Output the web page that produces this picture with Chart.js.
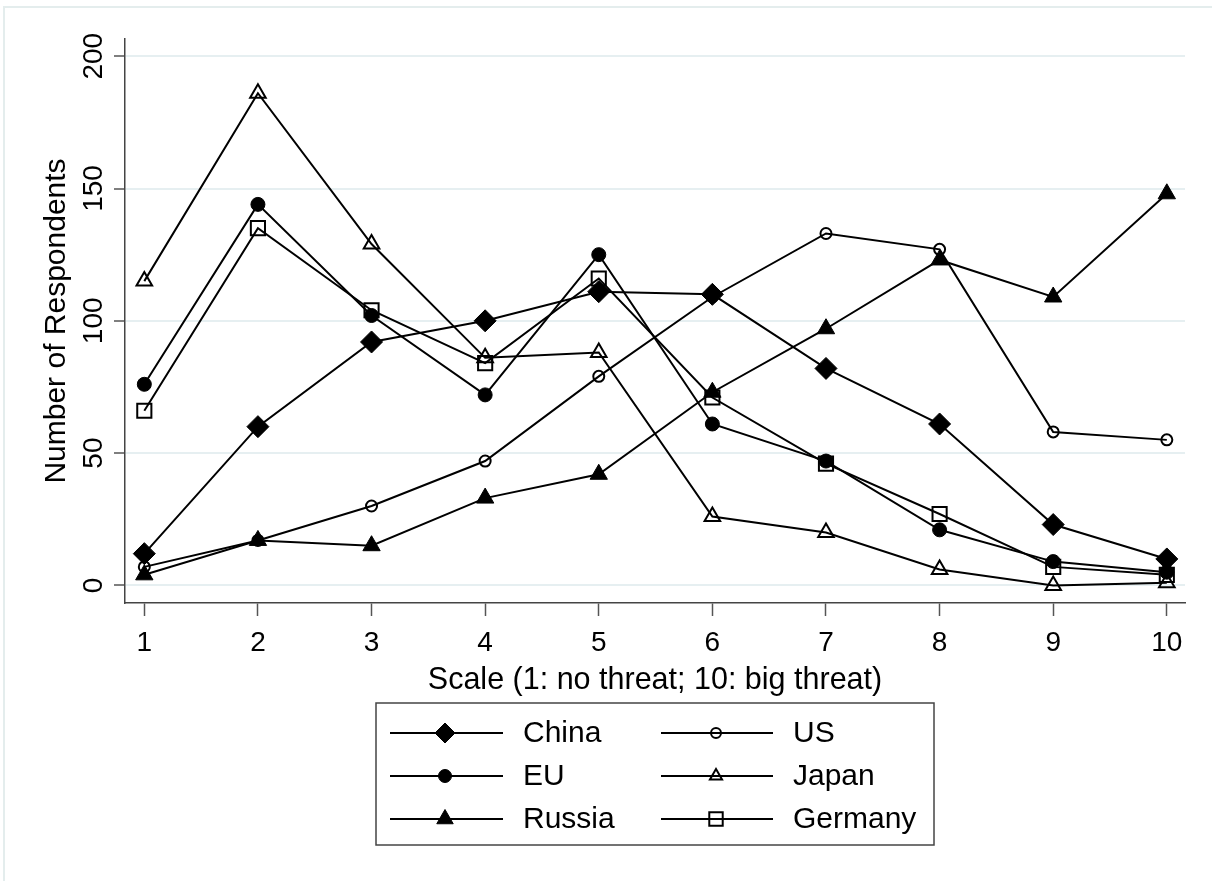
<!DOCTYPE html>
<html>
<head>
<meta charset="utf-8">
<script src="https://cdn.jsdelivr.net/npm/chart.js@4.4.1/dist/chart.umd.min.js"></script>
<style>
  html, body { margin: 0; padding: 0; background: #fff; }
  #wrap { position: relative; width: 1212px; height: 881px; }
  canvas { display: block; }
</style>
</head>
<body>
<div id="wrap"><canvas id="c" width="1212" height="881"></canvas></div>
<script>
// Threat scale levels and respondent counts per country
const scaleLevels = [1, 2, 3, 4, 5, 6, 7, 8, 9, 10];
const yTickValues = [0, 50, 100, 150, 200];
const china   = [12, 60, 92, 100, 111, 110, 82, 61, 23, 10];
const us      = [7, 17, 30, 47, 79, 109, 133, 127, 58, 55];
const eu      = [76, 144, 102, 72, 125, 61, 47, 21, 9, 5];
const japan   = [115, 186, 129, 86, 88, 26, 20, 6, 0, 1];
const russia  = [4, 17, 15, 33, 42, 73, 97, 123, 109, 148];
const germany = [66, 135, 104, 84, 116, 71, 46, 27, 7, 4];
const seriesNames = ['China', 'US', 'EU', 'Japan', 'Russia', 'Germany'];
const xTitle = 'Scale (1: no threat; 10: big threat)';
const yTitle = 'Number of Respondents';

const FONT = '"Liberation Sans", Arial, sans-serif';
const INK = '#000';
const CLEAR = 'rgba(0,0,0,0)';

// marker look per country: chart radius r, legend radius lr
const markerStyles = {
  China:   { style: 'rectRot',  r: 11,  filled: true,  lr: 10 },
  US:      { style: 'circle',   r: 5.5, filled: false, lr: 5 },
  EU:      { style: 'circle',   r: 7,   filled: true,  lr: 6.5 },
  Japan:   { style: 'triangle', r: 9,   filled: false, lr: 7 },
  Russia:  { style: 'triangle', r: 10,  filled: true,  lr: 9.5 },
  Germany: { style: 'rect',     r: 10,  filled: false, lr: 9.5 }
};

const seriesValues = { China: china, US: us, EU: eu, Japan: japan, Russia: russia, Germany: germany };

function toPoints(vals) {
  return scaleLevels.map((x, i) => ({ x: x, y: vals[i] }));
}

const datasets = seriesNames.map(name => {
  const m = markerStyles[name];
  return {
    label: name,
    data: toPoints(seriesValues[name]),
    borderColor: INK,
    borderWidth: 2,
    tension: 0,
    fill: false,
    pointStyle: m.style,
    pointRadius: m.r,
    pointBackgroundColor: m.filled ? INK : CLEAR,
    pointBorderColor: INK,
    pointBorderWidth: m.filled ? 1 : 2
  };
});

// marker path for the legend keys
function markerPath(ctx, style, x, y, r) {
  ctx.beginPath();
  if (style === 'circle') {
    ctx.arc(x, y, r, 0, Math.PI * 2);
  } else if (style === 'rectRot') {
    ctx.moveTo(x - r, y); ctx.lineTo(x, y - r); ctx.lineTo(x + r, y); ctx.lineTo(x, y + r);
    ctx.closePath();
  } else if (style === 'rect') {
    const s = Math.SQRT1_2 * r;
    ctx.rect(x - s, y - s, 2 * s, 2 * s);
  } else if (style === 'triangle') {
    for (let k = 0; k < 3; k++) {
      const a = k * 2 * Math.PI / 3;
      const px = x + Math.sin(a) * r, py = y - Math.cos(a) * r;
      if (k === 0) ctx.moveTo(px, py); else ctx.lineTo(px, py);
    }
    ctx.closePath();
  }
}

const framePlugin = {
  id: 'frame',
  beforeDraw(chart) {
    const ctx = chart.ctx;
    ctx.save();
    ctx.fillStyle = '#fff';
    ctx.fillRect(0, 0, chart.width, chart.height);
    ctx.strokeStyle = '#e4eded';
    ctx.lineWidth = 2;
    ctx.strokeRect(4, 7, chart.width + 20, chart.height + 20);
    ctx.restore();
  }
};

const labelsPlugin = {
  id: 'axisText',
  afterDraw(chart) {
    const ctx = chart.ctx;
    const xs = chart.scales.x, ys = chart.scales.y, area = chart.chartArea;
    ctx.save();
    ctx.fillStyle = INK;

    // x tick labels
    ctx.font = '28px ' + FONT;
    ctx.textAlign = 'center';
    ctx.textBaseline = 'alphabetic';
    scaleLevels.forEach(v => ctx.fillText(String(v), xs.getPixelForValue(v), 651));

    // x title
    ctx.font = '30.5px ' + FONT;
    ctx.fillText(xTitle, (area.left + area.right) / 2, 689);

    // y tick labels, rotated
    ctx.font = '28px ' + FONT;
    yTickValues.forEach(v => {
      ctx.save();
      ctx.translate(102, ys.getPixelForValue(v));
      ctx.rotate(-Math.PI / 2);
      ctx.fillText(String(v), 0, 0);
      ctx.restore();
    });

    // y title
    ctx.font = '30px ' + FONT;
    ctx.save();
    ctx.translate(65, (area.top + area.bottom) / 2);
    ctx.rotate(-Math.PI / 2);
    ctx.fillText(yTitle, 0, 0);
    ctx.restore();

    // legend box
    const box = { x: 376, y: 703, w: 558, h: 142 };
    ctx.strokeStyle = '#444';
    ctx.lineWidth = 1.5;
    ctx.strokeRect(box.x, box.y, box.w, box.h);

    const cols = [
      { x0: 390, x1: 503, mx: 445, tx: 523 },
      { x0: 661, x1: 773, mx: 716, tx: 793 }
    ];
    const rows = [733, 776, 819];
    ctx.font = '30px ' + FONT;
    ctx.textAlign = 'left';
    ctx.textBaseline = 'middle';
    seriesNames.forEach((name, i) => {
      const c = cols[i % 2], ry = rows[Math.floor(i / 2)];
      const m = markerStyles[name];
      ctx.strokeStyle = INK;
      ctx.lineWidth = 2;
      ctx.beginPath();
      ctx.moveTo(c.x0, ry); ctx.lineTo(c.x1, ry);
      ctx.stroke();
      markerPath(ctx, m.style, c.mx, ry, m.lr);
      if (m.filled) {
        ctx.fillStyle = INK; ctx.fill();
        ctx.lineWidth = 1; ctx.stroke();
      } else {
        ctx.lineWidth = 2; ctx.stroke();
      }
      ctx.fillStyle = INK;
      ctx.fillText(name, c.tx, ry + 1);
    });
    ctx.restore();
  }
};

new Chart(document.getElementById('c'), {
  type: 'line',
  data: { datasets: datasets },
  options: {
    responsive: false,
    animation: false,
    devicePixelRatio: 1,
    layout: { padding: { left: 114, top: 39, right: 27, bottom: 265 } },
    plugins: { legend: { display: false }, tooltip: { enabled: false } },
    scales: {
      x: {
        type: 'linear',
        min: 0.83,
        max: 10.16,
        afterBuildTicks: s => { s.ticks = scaleLevels.map(v => ({ value: v })); },
        ticks: { display: false },
        grid: { display: true, drawOnChartArea: false, drawTicks: true, tickLength: 13, tickColor: '#555', tickWidth: 1.5 },
        border: { display: true, color: '#444', width: 1.5 }
      },
      y: {
        type: 'linear',
        min: -6.65,
        max: 206.5,
        afterBuildTicks: s => { s.ticks = yTickValues.map(v => ({ value: v })); },
        ticks: { display: false },
        grid: { display: true, color: '#e6eff1', lineWidth: 2, drawTicks: true, tickLength: 11, tickColor: '#555', tickWidth: 1.5 },
        border: { display: true, color: '#444', width: 1.5 }
      }
    }
  },
  plugins: [framePlugin, labelsPlugin]
});
</script>
</body>
</html>
